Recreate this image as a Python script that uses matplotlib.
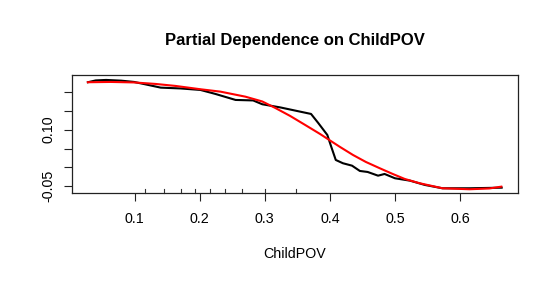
import matplotlib
matplotlib.use("Agg")
import matplotlib.pyplot as plt

plt.rcParams['font.family'] = ['Liberation Sans', 'DejaVu Sans']

# Partial dependence (black) and smoothed fit (red)
pd_x = [0.028, 0.040, 0.056, 0.079, 0.099, 0.117, 0.140, 0.170, 0.201, 0.224,
        0.255, 0.282, 0.296, 0.324, 0.371, 0.382, 0.396, 0.402, 0.409, 0.420,
        0.434, 0.446, 0.458, 0.474, 0.484, 0.500, 0.523, 0.546, 0.573, 0.615, 0.664]
pd_y = [0.2256, 0.2304, 0.2317, 0.2298, 0.2264, 0.2198, 0.2113, 0.2092, 0.2052, 0.1946,
        0.1787, 0.1774, 0.1673, 0.1588, 0.1416, 0.1178, 0.0860, 0.0550, 0.0197, 0.0110,
        0.0046, -0.0094, -0.0121, -0.0219, -0.0174, -0.0288, -0.0351, -0.0465, -0.0553, -0.0553, -0.0537]

fit_x = [0.0280, 0.0632, 0.0985, 0.1321, 0.1628, 0.2011, 0.2317, 0.2700, 0.2960, 0.3160,
         0.3389, 0.3619, 0.3848, 0.4001, 0.4155, 0.4354, 0.4553, 0.4767, 0.4966, 0.5150,
         0.5380, 0.5731, 0.6145, 0.6451, 0.6635]
fit_y = [0.2256, 0.2264, 0.2251, 0.2211, 0.2158, 0.2070, 0.2007, 0.1874, 0.1747, 0.1575,
         0.1363, 0.1125, 0.0886, 0.0714, 0.0542, 0.0330, 0.0144, -0.0023, -0.0174, -0.0306,
         -0.0420, -0.0553, -0.0579, -0.0558, -0.0510]

rug_x = [0.1153, 0.1443, 0.1704, 0.1919, 0.2164, 0.2389, 0.2643, 0.2995, 0.348]

x_ticks = [0.1, 0.2, 0.3, 0.4, 0.5, 0.6]
x_tick_labels = ["0.1", "0.2", "0.3", "0.4", "0.5", "0.6"]
y_ticks = [-0.05, 0.00, 0.05, 0.10, 0.15, 0.20]
y_tick_labels = ["-0.05", "", "", "0.10", "", ""]

fig = plt.figure(figsize=(5.54, 2.82), dpi=100)
ax = fig.add_axes([0.1294, 0.3167, 0.9356 - 0.1294, 0.733 - 0.3167])

ax.plot(pd_x, pd_y, color='black', lw=1.5, solid_joinstyle='round')
ax.plot(fit_x, fit_y, color='red', lw=1.5, solid_joinstyle='round')

ax.set_xlim(0.0031, 0.6896)
ax.set_ylim(-0.067, 0.244)

# rug marks
for r in rug_x:
    ax.plot([r, r], [0, 0.028], transform=ax.get_xaxis_transform(), color='#333333', lw=0.8, clip_on=False)

ax.set_xticks(x_ticks)
ax.set_xticklabels(x_tick_labels)
ax.set_yticks(y_ticks)
ax.set_yticklabels(y_tick_labels, rotation=90, va='center')
ax.tick_params(axis='both', direction='out', length=6, width=0.8, labelsize=10.3, colors='#222222', labelcolor='black')
ax.tick_params(axis='x', pad=8)
ax.tick_params(axis='y', pad=6)
for s in ax.spines.values():
    s.set_linewidth(0.9)
    s.set_color('#222222')

fig.text(0.5325, 0.858, "Partial Dependence on ChildPOV", ha='center', va='center', fontsize=12, fontweight='bold')
fig.text(0.5325, 0.100, "ChildPOV", ha='center', va='center', fontsize=10.3)

fig.savefig("out.png", dpi=100)
